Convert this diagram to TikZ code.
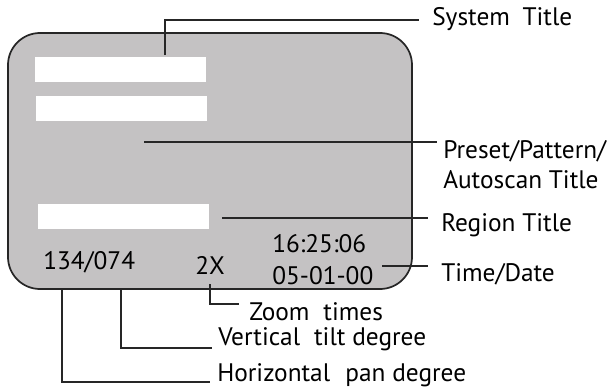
\documentclass[tikz,border=0pt]{standalone}
\usepackage{fontspec}
\setmainfont{PT Sans}
\begin{document}
\begin{tikzpicture}[x=0.75pt,y=-0.75pt,
  lbl/.style={inner sep=0pt,anchor=base west,font=\fontsize{19}{21}\selectfont},
  bar/.style={fill=white,draw=none,inner sep=0pt,anchor=north west},
  conn/.style={line width=1.2pt,draw=black!85},
  screen/.style={fill=screengray,draw=black!85,line width=1.3pt,rounded corners=24pt}]
\definecolor{screengray}{HTML}{C4C2C3}
\useasboundingbox (0,0) rectangle (610,389);
% screen
\path[screen] (8,33) rectangle (412,289);
% white bars
\node[bar,minimum width=128.25pt,minimum height=18.75pt] (bar1) at (35,57) {};
\node[bar,minimum width=128.25pt,minimum height=18.75pt] (bar2) at (36,96) {};
\node[bar,minimum width=128.25pt,minimum height=18.75pt] (bar3) at (38,204) {};
% on-screen texts
\node[lbl] (time) at (272,252) {16:25:06};
\node[lbl] (date) at (272,284) {05-01-00};
\node[lbl] (pos) at (43,269) {134/074};
\node[lbl] (zoom) at (195,274) {2X};
% labels
\node[lbl] (systitle) at (432,26) {System\hspace{0.5em}Title};
\node[lbl] (preset) at (443,158) {Preset/Pattern/};
\node[lbl] (autoscan) at (443,188) {Autoscan Title};
\node[lbl] (region) at (441,231) {Region Title};
\node[lbl] (timedate) at (441,281) {Time/Date};
\node[lbl] (zoomt) at (249,320) {Zoom\hspace{0.55em}times};
\node[lbl] (vert) at (218,345) {Vertical\hspace{0.55em}tilt degree};
\node[lbl] (horiz) at (217,381) {Horizontal\hspace{0.6em}pan degree};
% connector ends
\coordinate (sysA) at (165,55);
\coordinate (sysB) at (419,20);
\coordinate (preA) at (144,142);
\coordinate (preB) at (437,142);
\coordinate (regA) at (222,218);
\coordinate (regB) at (428,218);
\coordinate (timA) at (382,266);
\coordinate (timB) at (428,266);
\coordinate (zoomA) at (210,284);
\coordinate (zoomB) at (239,304);
\coordinate (vertA) at (121,289);
\coordinate (vertB) at (212,348);
\coordinate (horA) at (62,289);
\coordinate (horB) at (210,382);
% connectors
\draw[conn] (sysA) |- (sysB);
\draw[conn] (preA) -- (preB);
\draw[conn] (regA) -- (regB);
\draw[conn] (timA) -- (timB);
\draw[conn] (zoomA) |- (zoomB);
\draw[conn] (vertA) |- (vertB);
\draw[conn] (horA) |- (horB);
\end{tikzpicture}
\end{document}
